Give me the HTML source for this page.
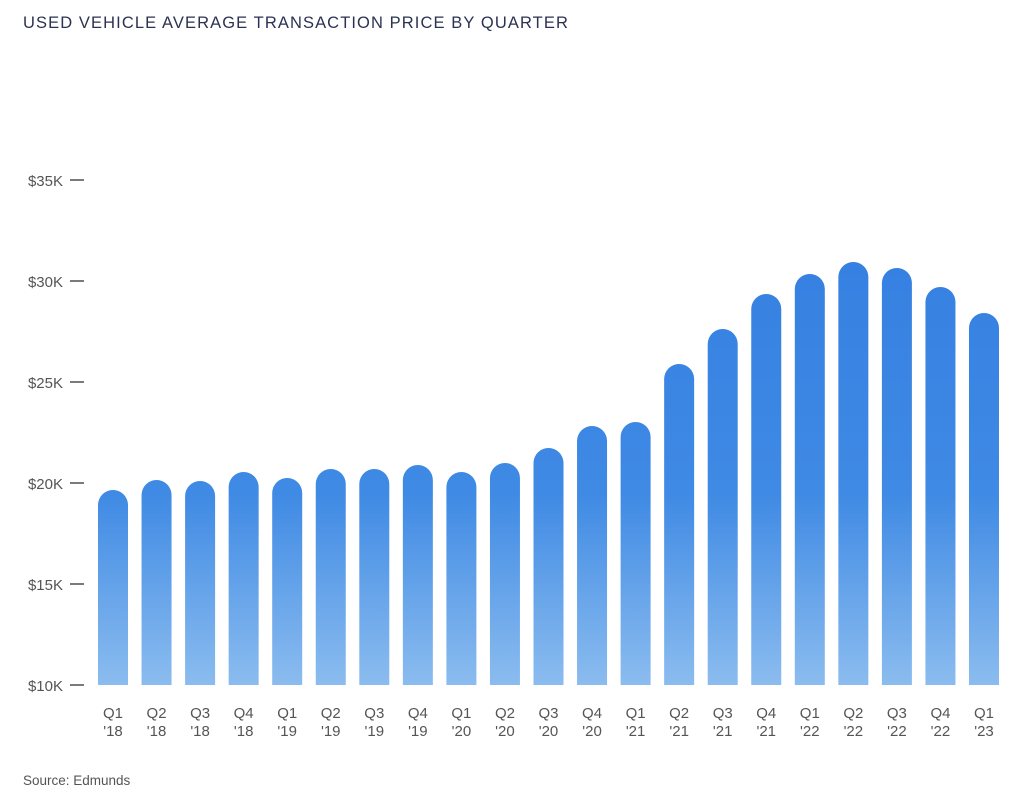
<!DOCTYPE html>
<html><head><style>
body{margin:0;background:#fff;width:1024px;height:801px;overflow:hidden;font-family:"Liberation Sans",sans-serif}
</style></head><body>
<svg width="1024" height="801" xmlns="http://www.w3.org/2000/svg" font-family="Liberation Sans, sans-serif">
<defs><linearGradient id="g" gradientUnits="userSpaceOnUse" x1="0" y1="260" x2="0" y2="685">
<stop offset="0" stop-color="#3680e2"/><stop offset="0.55" stop-color="#3f8ae4"/><stop offset="1" stop-color="#8bbcef"/></linearGradient></defs>
<text x="23" y="28" font-size="16.5" fill="#2b3252" letter-spacing="1.1">USED VEHICLE AVERAGE TRANSACTION PRICE BY QUARTER</text>
<g font-size="15" fill="#555" text-anchor="end">
<text x="63" y="186">$35K</text><text x="63" y="287">$30K</text><text x="63" y="388">$25K</text>
<text x="63" y="489">$20K</text><text x="63" y="590">$15K</text><text x="63" y="691">$10K</text>
</g>
<g stroke="#333" stroke-width="1.3">
<line x1="70" x2="84" y1="180" y2="180"/><line x1="70" x2="84" y1="281" y2="281"/><line x1="70" x2="84" y1="382" y2="382"/>
<line x1="70" x2="84" y1="483" y2="483"/><line x1="70" x2="84" y1="584" y2="584"/><line x1="70" x2="84" y1="685" y2="685"/>
</g>
<g fill="url(#g)">
<path d="M98 685V505a15 15 0 0 1 30 0V685Z"/>
<path d="M141.55 685V495a15 15 0 0 1 30 0V685Z"/>
<path d="M185.1 685V496a15 15 0 0 1 30 0V685Z"/>
<path d="M228.65 685V487a15 15 0 0 1 30 0V685Z"/>
<path d="M272.2 685V493a15 15 0 0 1 30 0V685Z"/>
<path d="M315.75 685V484a15 15 0 0 1 30 0V685Z"/>
<path d="M359.3 685V484a15 15 0 0 1 30 0V685Z"/>
<path d="M402.85 685V480a15 15 0 0 1 30 0V685Z"/>
<path d="M446.4 685V487a15 15 0 0 1 30 0V685Z"/>
<path d="M489.95 685V478a15 15 0 0 1 30 0V685Z"/>
<path d="M533.5 685V463a15 15 0 0 1 30 0V685Z"/>
<path d="M577.05 685V441a15 15 0 0 1 30 0V685Z"/>
<path d="M620.6 685V437a15 15 0 0 1 30 0V685Z"/>
<path d="M664.15 685V379a15 15 0 0 1 30 0V685Z"/>
<path d="M707.7 685V344a15 15 0 0 1 30 0V685Z"/>
<path d="M751.25 685V309a15 15 0 0 1 30 0V685Z"/>
<path d="M794.8 685V289a15 15 0 0 1 30 0V685Z"/>
<path d="M838.35 685V277a15 15 0 0 1 30 0V685Z"/>
<path d="M881.9 685V283a15 15 0 0 1 30 0V685Z"/>
<path d="M925.45 685V302a15 15 0 0 1 30 0V685Z"/>
<path d="M969 685V328a15 15 0 0 1 30 0V685Z"/>
</g>
<g font-size="15" fill="#555" text-anchor="middle">
<text x="113" y="718">Q1</text><text x="113" y="736">'18</text>
<text x="156.55" y="718">Q2</text><text x="156.55" y="736">'18</text>
<text x="200.1" y="718">Q3</text><text x="200.1" y="736">'18</text>
<text x="243.65" y="718">Q4</text><text x="243.65" y="736">'18</text>
<text x="287.2" y="718">Q1</text><text x="287.2" y="736">'19</text>
<text x="330.75" y="718">Q2</text><text x="330.75" y="736">'19</text>
<text x="374.3" y="718">Q3</text><text x="374.3" y="736">'19</text>
<text x="417.85" y="718">Q4</text><text x="417.85" y="736">'19</text>
<text x="461.4" y="718">Q1</text><text x="461.4" y="736">'20</text>
<text x="504.95" y="718">Q2</text><text x="504.95" y="736">'20</text>
<text x="548.5" y="718">Q3</text><text x="548.5" y="736">'20</text>
<text x="592.05" y="718">Q4</text><text x="592.05" y="736">'20</text>
<text x="635.6" y="718">Q1</text><text x="635.6" y="736">'21</text>
<text x="679.15" y="718">Q2</text><text x="679.15" y="736">'21</text>
<text x="722.7" y="718">Q3</text><text x="722.7" y="736">'21</text>
<text x="766.25" y="718">Q4</text><text x="766.25" y="736">'21</text>
<text x="809.8" y="718">Q1</text><text x="809.8" y="736">'22</text>
<text x="853.35" y="718">Q2</text><text x="853.35" y="736">'22</text>
<text x="896.9" y="718">Q3</text><text x="896.9" y="736">'22</text>
<text x="940.45" y="718">Q4</text><text x="940.45" y="736">'22</text>
<text x="984" y="718">Q1</text><text x="984" y="736">'23</text>
</g>
<text x="23" y="785" font-size="13.5" fill="#555">Source: Edmunds</text>
</svg>
</body></html>
